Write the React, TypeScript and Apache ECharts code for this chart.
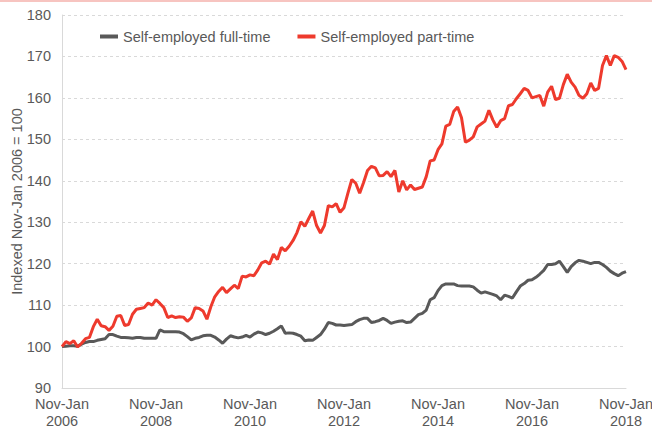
import React, { useEffect, useRef } from "react";
import * as echarts from "echarts";

const quarterNames = ["Nov-Jan", "Dec-Feb", "Jan-Mar", "Feb-Apr", "Mar-May", "Apr-Jun", "May-Jul", "Jun-Aug", "Jul-Sep", "Aug-Oct", "Sep-Nov", "Oct-Dec"];
const startYear = 2006;
const endYear = 2018;

const categories: string[] = [];
for (let y = startYear; y <= endYear; y++) {
  for (let q = 0; q < quarterNames.length; q++) {
    if (y === endYear && q > 0) break;
    categories.push(quarterNames[q] + " " + y);
  }
}

const fullTime = [
  100.0, 100.1, 100.2, 100.2, 100.1, 100.6, 101.0, 101.2, 101.2, 101.5, 101.7, 101.9,
  102.9, 102.9, 102.5, 102.2, 102.2, 102.1, 102.0, 102.2, 102.2, 102.0, 102.0, 102.0,
  102.0, 104.0, 103.6, 103.6, 103.6, 103.6, 103.5, 103.1, 102.4, 101.6, 102.0, 102.2,
  102.6, 102.7, 102.7, 102.3, 101.6, 100.8, 101.8, 102.6, 102.3, 102.1, 102.3, 102.7,
  102.3, 103.0, 103.5, 103.3, 102.9, 103.2, 103.7, 104.3, 105.0, 103.2, 103.3, 103.2,
  102.9, 102.5, 101.4, 101.6, 101.5, 102.2, 102.9, 104.2, 105.8, 105.6, 105.2, 105.2,
  105.1, 105.2, 105.3, 106.0, 106.5, 106.8, 106.8, 105.8, 106.0, 106.3, 106.8, 106.3,
  105.6, 105.9, 106.1, 106.2, 105.8, 105.9, 106.8, 107.7, 108.0, 108.8, 111.3, 111.8,
  113.5, 114.7, 115.1, 115.1, 115.1, 114.7, 114.6, 114.6, 114.6, 114.4, 113.6, 112.9,
  113.2, 112.9, 112.6, 112.2, 111.3, 112.4, 112.1, 111.7, 113.2, 114.6, 115.2, 116.0,
  116.1, 116.7, 117.5, 118.4, 119.8, 119.8, 120.0, 120.6, 119.3, 117.9, 119.3, 120.2,
  120.8, 120.6, 120.3, 120.0, 120.3, 120.3, 119.8, 119.1, 118.2, 117.6, 117.1, 117.7,
  118.1,
];

const partTime = [
  100.0, 101.2, 100.7, 101.4, 99.9, 100.8, 101.9, 102.2, 104.8, 106.6, 105.0, 104.8,
  103.9, 104.9, 107.3, 107.5, 105.1, 105.3, 107.8, 109.0, 109.2, 109.4, 110.5, 110.0,
  111.3, 110.4, 109.4, 107.0, 107.4, 107.0, 107.2, 107.1, 106.1, 106.9, 109.4, 109.2,
  108.6, 106.6, 109.6, 112.0, 113.3, 114.3, 113.0, 113.9, 114.8, 114.0, 117.0, 116.8,
  117.3, 117.1, 118.5, 120.2, 120.6, 119.9, 122.3, 121.0, 123.9, 123.1, 124.2, 125.6,
  127.5, 130.1, 129.0, 130.9, 132.7, 129.2, 127.4, 129.2, 134.0, 133.7, 134.5, 132.4,
  133.5, 137.0, 140.3, 139.4, 137.0, 139.6, 142.5, 143.5, 143.1, 141.2, 141.3, 142.2,
  141.0, 142.5, 137.3, 140.0, 137.8, 139.0, 137.9, 138.2, 138.5, 141.0, 144.8, 145.0,
  147.5, 148.9, 153.2, 153.6, 156.7, 157.8, 155.2, 149.3, 149.8, 150.6, 153.0, 153.7,
  154.4, 157.0, 154.7, 152.9, 154.5, 155.0, 158.1, 158.4, 159.8, 161.0, 162.3, 161.8,
  160.0, 160.3, 160.6, 158.0, 161.4, 162.8, 159.6, 159.9, 163.2, 165.7, 163.8, 162.6,
  160.6, 159.9, 161.0, 163.6, 161.8, 162.3, 167.8, 170.2, 167.8, 170.2, 169.8, 168.8,
  166.8,
];

const seriesNames = ["Self-employed full-time", "Self-employed part-time"];
const yAxisTitle = "Indexed Nov-Jan 2006 = 100";

export default function App() {
  const ref = useRef<HTMLDivElement>(null);

  useEffect(() => {
    if (!ref.current) return;
    const chart = echarts.init(ref.current, undefined, { renderer: "svg" });
    const textColor = "#595959";
    const font = "Liberation Sans, Arial, sans-serif";
    chart.setOption({
      animation: false,
      backgroundColor: "#ffffff",
      textStyle: { fontFamily: font },
      graphic: [
        {
          type: "rect",
          left: 0,
          top: 0,
          shape: { width: 652, height: 2 },
          style: { fill: "#F7C4C0" },
        },
      ],
      grid: {
        left: 62,
        right: 26,
        top: 15,
        bottom: 42,
        containLabel: false,
        outerBoundsMode: "none",
      },
      legend: {
        left: 100,
        top: 29,
        padding: 0,
        itemWidth: 18,
        itemHeight: 4,
        itemGap: 27,
        icon: "rect",
        textStyle: { color: textColor, fontSize: 14.5, fontFamily: font },
        data: seriesNames,
      },
      xAxis: {
        type: "category",
        data: categories,
        boundaryGap: false,
        axisLine: { lineStyle: { color: "#D9D9D9", width: 1 } },
        axisTick: { show: false },
        axisLabel: {
          interval: (i: number) => i % 24 === 0,
          formatter: (v: string) => v.replace(" ", "\n"),
          color: textColor,
          fontSize: 14.5,
          lineHeight: 16.5,
          margin: 8,
          showMaxLabel: true,
        },
        splitLine: { show: false },
      },
      yAxis: {
        type: "value",
        min: 90,
        max: 180,
        interval: 10,
        name: yAxisTitle,
        nameLocation: "middle",
        nameGap: 38,
        nameMoveOverlap: false,
        nameTextStyle: { color: textColor, fontSize: 14.5 },
        axisLine: { show: true, lineStyle: { color: "#D9D9D9", width: 1 } },
        axisTick: { show: false },
        axisLabel: { color: textColor, fontSize: 14.5, margin: 11 },
        splitLine: { lineStyle: { color: "#D9D9D9", type: [3, 3], width: 1 } },
      },
      series: [
        {
          name: seriesNames[0],
          type: "line",
          data: fullTime,
          showSymbol: false,
          symbol: "none",
          lineStyle: { color: "#595959", width: 3 },
          itemStyle: { color: "#595959" },
          z: 2,
        },
        {
          name: seriesNames[1],
          type: "line",
          data: partTime,
          showSymbol: false,
          symbol: "none",
          lineStyle: { color: "#EE3A2D", width: 3 },
          itemStyle: { color: "#EE3A2D" },
          z: 3,
        },
      ],
    });
    return () => chart.dispose();
  }, []);

  return (
    <div
      ref={ref}
      style={{ position: "fixed", left: 0, top: 0, width: 652, height: 430 }}
    />
  );
}
